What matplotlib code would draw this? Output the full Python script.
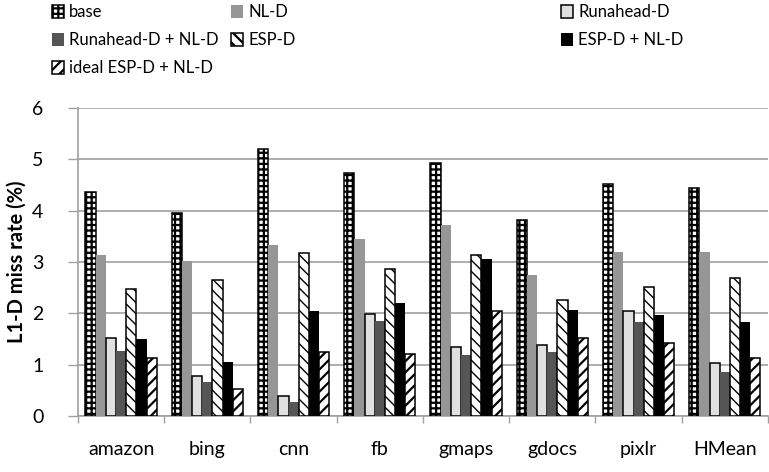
import numpy as np
import matplotlib
matplotlib.use("Agg")
import matplotlib.pyplot as plt

# ----------------------------------------------------------------------
APPS = ['amazon', 'bing', 'cnn', 'fb', 'gmaps', 'gdocs', 'pixlr', 'HMean']

base        = [4.37, 3.95, 5.21, 4.73, 4.93, 3.81, 4.52, 4.44]
nl_d        = [3.13, 3.03, 3.34, 3.45, 3.73, 2.75, 3.20, 3.20]
runahead_d  = [1.52, 0.78, 0.39, 1.98, 1.35, 1.38, 2.05, 1.03]
runahead_nl = [1.27, 0.66, 0.27, 1.86, 1.19, 1.24, 1.83, 0.85]
esp_d       = [2.47, 2.65, 3.17, 2.86, 3.14, 2.26, 2.51, 2.69]
esp_nl      = [1.51, 1.05, 2.04, 2.21, 3.06, 2.07, 1.97, 1.83]
ideal_esp   = [1.13, 0.53, 1.24, 1.20, 2.04, 1.52, 1.42, 1.13]

SERIES = [
    # label, values, facecolor, hatch, outlined, hatch lw
    ('base',               base,        'white',   '+++', True,  1.6),
    ('NL-D',               nl_d,        '#969696', None,  False, 1.0),
    ('Runahead-D',         runahead_d,  '#e0e0e0', None,  True,  1.0),
    ('Runahead-D + NL-D',  runahead_nl, '#555555', None,  False, 1.0),
    ('ESP-D',              esp_d,       'white',   '\\\\\\', True, 1.0),
    ('ESP-D + NL-D',       esp_nl,      'black',   None,  False, 1.0),
    ('ideal ESP-D + NL-D', ideal_esp,   'white',   '///', True,  1.6),
]

plt.rcParams.update({"font.family": ["Lato", "DejaVu Sans"], "font.size": 14})

fig = plt.figure(figsize=(7.69, 4.72), dpi=100)
ax = fig.add_axes([0.1014, 0.1186, 0.8973, 0.6524])

x = np.arange(len(APPS))
w = 0.118
handles = {}
for i, (lbl, vals, fc, hatch, outlined, hlw) in enumerate(SERIES):
    plt.rcParams['hatch.linewidth'] = hlw
    off = (i - 3) * w
    bars = ax.bar(x + off, vals, width=w, color=fc, hatch=hatch,
                  edgecolor='black', linewidth=1.1 if outlined else 0,
                  zorder=3, label=lbl)
    handles[lbl] = bars

ax.set_xlim(-0.5, len(APPS) - 0.5)
ax.set_ylim(0, 6)
ax.set_yticks(range(0, 7))
ax.set_xticks(x)
ax.set_xticklabels(APPS)
ax.set_xticks(np.arange(-0.5, len(APPS), 1.0), minor=True)
ax.tick_params(axis='x', which='major', length=0, pad=18)
ax.tick_params(axis='x', which='minor', length=5, color='#a0a0a0', width=1)
ax.tick_params(axis='y', length=7, color='#a0a0a0', width=1, pad=18)
ax.yaxis.grid(True, color='#a0a0a0', lw=1.2, zorder=0)
ax.set_axisbelow(True)
for side in ['top', 'right']:
    ax.spines[side].set_visible(False)
for side in ['left', 'bottom']:
    ax.spines[side].set_color('#a0a0a0')
    ax.spines[side].set_linewidth(1.2)
ax.set_ylabel("L1-D miss rate (%)", fontweight='bold', fontsize=14.5, labelpad=4)

# legend: three hand-placed columns like the original
cols = [(['base', 'Runahead-D + NL-D', 'ideal ESP-D + NL-D'], 0.063),
        (['NL-D', 'ESP-D'], 0.296),
        (['Runahead-D', 'ESP-D + NL-D'], 0.725)]
for names, xpos in cols:
    fig.legend([handles[n] for n in names], names, loc='upper left',
               bbox_to_anchor=(xpos, 0.998), frameon=False, fontsize=12,
               handlelength=0.75, handleheight=0.75, handletextpad=0.3,
               labelspacing=0.72, borderpad=0.2, borderaxespad=0)

fig.savefig("out.png", dpi=100)
